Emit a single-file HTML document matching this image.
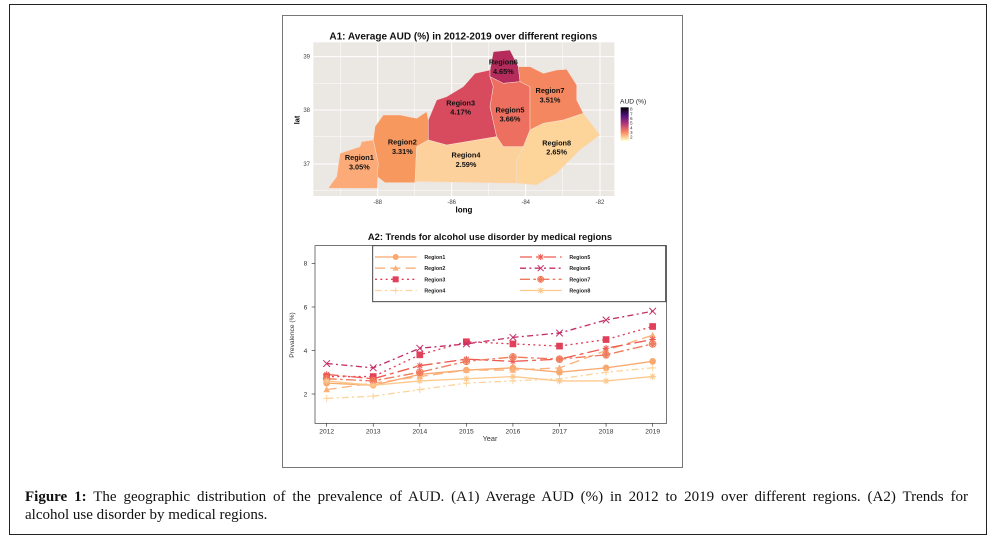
<!DOCTYPE html>
<html><head><meta charset="utf-8"><style>
body{margin:0;background:#fff;width:995px;height:540px;position:relative;overflow:hidden;font-family:"Liberation Sans",sans-serif}
#outer{position:absolute;left:9px;top:4px;width:978px;height:531px;border:1px solid #222;box-sizing:border-box}
#fig{position:absolute;left:282px;top:15px;width:401px;height:453px;border:1px solid #777;box-sizing:border-box}
.cap{position:absolute;left:25px;width:943px;font-family:"Liberation Serif",serif;font-size:15px;line-height:18px;color:#111;white-space:nowrap}
#c1{top:488px;text-align:justify;text-align-last:justify}
#c2{top:506px}
svg{position:absolute}
</style></head><body>
<div id="outer"></div>
<div id="fig"></div>
<svg id="map" style="left:290px;top:20px" width="370" height="200" viewBox="0 0 1110 600">
<text x="520" y="58" font-size="30" font-weight="bold" text-anchor="middle" fill="#111">A1: Average AUD (%) in 2012-2019 over different regions</text>
<rect x="70" y="67" width="903" height="461" fill="#ebe7e3"/>
<g stroke="#fff" stroke-width="3">
<line x1="70" x2="973" y1="110" y2="110"/><line x1="70" x2="973" y1="270" y2="270"/><line x1="70" x2="973" y1="432" y2="432"/>
<line x1="70" x2="973" y1="190" y2="190" stroke-width="1.5"/><line x1="70" x2="973" y1="350" y2="350" stroke-width="1.5"/><line x1="70" x2="973" y1="512" y2="512" stroke-width="1.5"/>
<line y1="67" y2="528" x1="263" x2="263"/><line y1="67" y2="528" x1="485" x2="485"/><line y1="67" y2="528" x1="707" x2="707"/><line y1="67" y2="528" x1="930" x2="930"/>
<line y1="67" y2="528" x1="152" x2="152" stroke-width="1.5"/><line y1="67" y2="528" x1="374" x2="374" stroke-width="1.5"/><line y1="67" y2="528" x1="596" x2="596" stroke-width="1.5"/><line y1="67" y2="528" x1="818" x2="818" stroke-width="1.5"/>
</g>
<g stroke="#f6e0d6" stroke-width="1.5">
<polygon fill="#fcab78" points="115,505 125,490 140,470 150,400 210,380 215,365 250,360 265,430 262,505"/>
<polygon fill="#f7985f" points="250,360 255,320 280,285 330,285 380,295 410,275 415,300 415,360 380,380 375,488 285,488 262,470 265,430"/>
<polygon fill="#d84a5e" points="415,300 440,240 470,230 520,200 555,160 600,150 600,170 610,200 600,260 620,350 560,360 470,375 415,360"/>
<polygon fill="#b52c5c" points="600,150 610,95 660,90 685,140 690,185 640,190 600,170"/>
<polygon fill="#ec6f5f" points="600,170 640,190 690,185 720,200 720,270 720,330 700,380 640,380 620,350 600,260 610,200"/>
<polygon fill="#f4875f" points="685,140 720,140 760,160 800,150 830,148 860,195 860,240 880,280 820,300 760,310 720,330 720,200 690,185"/>
<polygon fill="#fdd49a" points="720,330 760,310 820,300 880,280 930,345 870,390 830,430 800,460 740,495 680,490 680,420 700,380"/>
<polygon fill="#fdd19c" points="375,485 680,490 680,420 700,380 640,380 620,350 560,360 470,375 415,360 380,380"/>
</g>
<g font-size="22" font-weight="bold" text-anchor="middle" fill="#111">
<text x="208" y="420">Region1</text><text x="208" y="448">3.05%</text>
<text x="337" y="374">Region2</text><text x="337" y="402">3.31%</text>
<text x="512" y="256">Region3</text><text x="512" y="284">4.17%</text>
<text x="528" y="413">Region4</text><text x="528" y="441">2.59%</text>
<text x="660" y="277">Region5</text><text x="660" y="305">3.66%</text>
<text x="640" y="134">Region6</text><text x="640" y="162">4.65%</text>
<text x="780" y="219">Region7</text><text x="780" y="247">3.51%</text>
<text x="800" y="376">Region8</text><text x="800" y="404">2.65%</text>
</g>
<g font-size="18" fill="#444" text-anchor="end"><text x="60" y="116">39</text><text x="60" y="276">38</text><text x="60" y="438">37</text></g>
<g font-size="18" fill="#444" text-anchor="middle"><text x="263" y="552">-88</text><text x="485" y="552">-86</text><text x="707" y="552">-84</text><text x="930" y="552">-82</text></g>
<text x="522" y="577" font-size="24" font-weight="bold" text-anchor="middle">long</text>
<text transform="translate(28,300) rotate(-90)" font-size="22" font-weight="bold" text-anchor="middle">lat</text>
<text x="990" y="250" font-size="20" fill="#222">AUD (%)</text>
<defs><linearGradient id="mg" x1="0" y1="0" x2="0" y2="1"><stop offset="0" stop-color="#000004"/><stop offset="0.25" stop-color="#51127c"/><stop offset="0.5" stop-color="#b73779"/><stop offset="0.75" stop-color="#fc8961"/><stop offset="1" stop-color="#fcfdbf"/></linearGradient></defs>
<rect x="992" y="262" width="24" height="100" fill="url(#mg)"/>
<g font-size="14" fill="#333"><text x="1020" y="272">8</text><text x="1020" y="286">7</text><text x="1020" y="300">6</text><text x="1020" y="314">5</text><text x="1020" y="328">4</text><text x="1020" y="342">3</text><text x="1020" y="356">2</text></g>
</svg>
<svg id="ln" style="left:280px;top:225px" width="400" height="245" viewBox="0 0 1200 735">
<text x="630" y="45" font-size="28" font-weight="bold" text-anchor="middle" fill="#111">A2: Trends for alcohol use disorder by medical regions</text>
<rect x="105" y="62" width="1055" height="533" fill="none" stroke="#333" stroke-width="2"/>
<g id="series"></g>
<rect x="278" y="62" width="879" height="168" fill="#fff" stroke="#444" stroke-width="3"/>
<g id="leg"></g>
<g font-size="20" fill="#333" text-anchor="end"><text x="82" y="122">8</text><text x="82" y="253">6</text><text x="82" y="384">4</text><text x="82" y="514">2</text></g>
<g stroke="#333" stroke-width="2"><line x1="95" x2="105" y1="115" y2="115"/><line x1="95" x2="105" y1="246" y2="246"/><line x1="95" x2="105" y1="377" y2="377"/><line x1="95" x2="105" y1="507" y2="507"/></g>
<g id="xt" font-size="20" fill="#333" text-anchor="middle"></g>
<text x="630" y="648" font-size="22" text-anchor="middle" fill="#333">Year</text>
<text transform="translate(42,330) rotate(-90)" font-size="20" text-anchor="middle" fill="#333">Prevalence (%)</text>
</svg>
<div class="cap" id="c1"><b>Figure 1:</b> The geographic distribution of the prevalence of AUD. (A1) Average AUD (%) in 2012 to 2019 over different regions. (A2) Trends for</div>
<div class="cap" id="c2">alcohol use disorder by medical regions.</div>
<script>
var S=[
["Region1","#f9a86e","",[2.5,2.4,2.9,3.1,3.2,3.0,3.2,3.5],"o"],
["Region2","#fbb07a","30,16",[2.2,2.5,2.8,3.1,3.1,3.2,4.0,4.7],"t"],
["Region3","#e0405a","6,10",[2.8,2.8,3.8,4.4,4.3,4.2,4.5,5.1],"s"],
["Region4","#fdd39a","20,10,6,10",[1.8,1.9,2.2,2.5,2.6,2.7,3.0,3.2],"p"],
["Region5","#ee5a4f","36,12,12,12",[2.9,2.7,3.3,3.6,3.5,3.6,4.1,4.5],"a"],
["Region6","#c42e66","18,10,6,10",[3.4,3.2,4.1,4.3,4.6,4.8,5.4,5.8],"x"],
["Region7","#f07a5c","30,10,8,10",[2.7,2.6,3.0,3.5,3.7,3.6,3.8,4.3],"d"],
["Region8","#fdc88c","",[2.6,2.4,2.6,2.7,2.8,2.6,2.6,2.8],"*"]];
function X(i){return 140+i*139.7}function Y(v){return 507-(v-2)*65.33}
function mk(t,x,y,c,r){r=r||10;
 if(t=="o")return '<circle cx="'+x+'" cy="'+y+'" r="'+r+'" fill="'+c+'"/>';
 if(t=="s")return '<rect x="'+(x-r)+'" y="'+(y-r)+'" width="'+2*r+'" height="'+2*r+'" fill="'+c+'"/>';
 if(t=="t")return '<polygon points="'+x+','+(y-r)+' '+(x+r)+','+(y+r*0.8)+' '+(x-r)+','+(y+r*0.8)+'" fill="'+c+'"/>';
 if(t=="p")return '<path d="M'+(x-r)+' '+y+'h'+2*r+'M'+x+' '+(y-r)+'v'+2*r+'" stroke="'+c+'" stroke-width="3"/>';
 if(t=="x")return '<path d="M'+(x-r)+' '+(y-r)+'l'+2*r+' '+2*r+'M'+(x+r)+' '+(y-r)+'l'+(-2*r)+' '+2*r+'" stroke="'+c+'" stroke-width="3"/>';
 if(t=="d")return '<circle cx="'+x+'" cy="'+y+'" r="'+r+'" fill="none" stroke="'+c+'" stroke-width="3"/><path d="M'+x+' '+(y-r)+'L'+(x+r)+' '+y+'L'+x+' '+(y+r)+'L'+(x-r)+' '+y+'Z" fill="'+c+'"/>';
 return '<path d="M'+(x-r)+' '+y+'h'+2*r+'M'+x+' '+(y-r)+'v'+2*r+'M'+(x-7)+' '+(y-7)+'l14 14M'+(x+7)+' '+(y-7)+'l-14 14" stroke="'+c+'" stroke-width="3"/>';}
var h='',l='';
S.forEach(function(s,k){var p=s[3].map(function(v,i){return X(i)+','+Y(v)}).join(' ');
 h+='<polyline points="'+p+'" fill="none" stroke="'+s[1]+'" stroke-width="4"'+(s[2]?' stroke-dasharray="'+s[2]+'"':'')+'/>';
 s[3].forEach(function(v,i){h+=mk(s[4],X(i),Y(v),s[1])});
 var lx=k<4?285:720, ly=96+(k%4)*33.5;
 l+='<line x1="'+lx+'" x2="'+(lx+125)+'" y1="'+ly+'" y2="'+ly+'" stroke="'+s[1]+'" stroke-width="4"'+(s[2]?' stroke-dasharray="'+s[2]+'"':'')+'/>'+mk(s[4],lx+62,ly,s[1],9);
 l+='<text x="'+(lx+148)+'" y="'+(ly+6)+'" font-size="16" font-weight="bold" fill="#222">'+s[0]+'</text>';});
document.getElementById('series').innerHTML=h;document.getElementById('leg').innerHTML=l;
var t='';for(var i=0;i<8;i++)t+='<line x1="'+X(i)+'" x2="'+X(i)+'" y1="595" y2="605" stroke="#333" stroke-width="2"/><text x="'+X(i)+'" y="625">'+(2012+i)+'</text>';
document.getElementById('xt').innerHTML=t;
</script>
</body></html>
